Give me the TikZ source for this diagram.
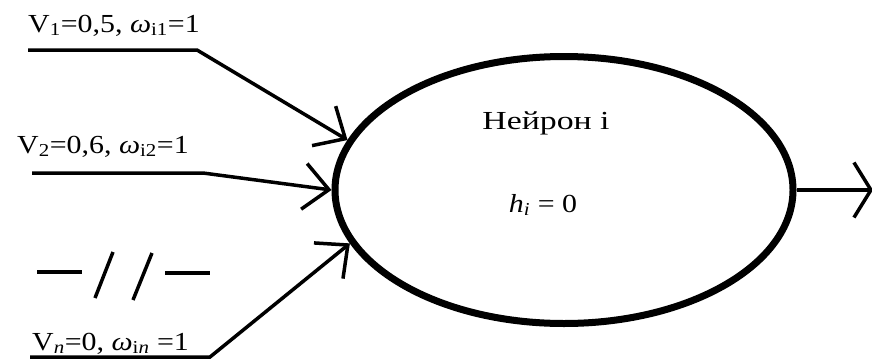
\documentclass[tikz,border=0pt]{standalone}
\usepackage{fontspec}
\setmainfont{Liberation Serif}
\usetikzlibrary{arrows.meta,shapes.geometric}
\newcommand{\wx}[1]{\scalebox{1.15}[1]{#1}}
\newcommand{\wy}[1]{\scalebox{1.3}[1]{#1}}
\begin{document}
\begin{tikzpicture}[x=1pt,y=-1pt,
  wire/.style={line width=3.5pt, line cap=butt, line join=miter},
  inarrow/.style={wire, -{Straight Barb[length=25pt,width=46pt]}},
  outarrow/.style={wire, -{Straight Barb[length=17pt,width=55pt]}},
  lbl/.style={anchor=base west, inner sep=0pt, font=\fontsize{26}{30}\selectfont},
  txt/.style={anchor=base, inner sep=0pt, font=\fontsize{26}{30}\selectfont}]
\useasboundingbox (0,0) rectangle (872,359);
% neuron
\node[draw, ellipse, line width=7pt, minimum width=458pt, minimum height=267pt, inner sep=0pt] (neuron) at (564,190) {};
\node[txt] (name) at (546,129) {\wy{Нейрон i}};
\node[txt] (state) at (543,212) {\wx{\textit{h}\textsubscript{\textit{i}} = 0}};
% labels
\node[lbl] (l1) at (28,32) {\wx{V\textsubscript{1}=0,5, \textit{ω}\textsubscript{i1}=1}};
\node[lbl] (l2) at (17,153) {\wx{V\textsubscript{2}=0,6, \textit{ω}\textsubscript{i2}=1}};
\node[lbl] (ln) at (32,350) {\wx{V\textsubscript{\textit{n}}=0, \textit{ω}\textsubscript{i\textit{n}} =1}};
% input wires
\coordinate (a1) at (28,50);
\coordinate (b1) at (197,50);
\coordinate (a2) at (32,173);
\coordinate (b2) at (203,173);
\coordinate (a3) at (30,357);
\coordinate (b3) at (210,357);
\draw[inarrow] (a1) -- (b1) -- (neuron.167);
\draw[inarrow] (a2) -- (b2) -- (neuron.west);
\draw[inarrow] (a3) -- (b3) -- (neuron.194);
% output
\coordinate (out) at (873,190);
\draw[outarrow] (neuron.east) -- (out);
% ellipsis mark
\draw[wire] (37,272) -- (82,272);
\draw[wire] (113,252) -- (95,298);
\draw[wire] (152,253) -- (133,300);
\draw[wire] (165,273) -- (210,273);
\end{tikzpicture}
\end{document}
